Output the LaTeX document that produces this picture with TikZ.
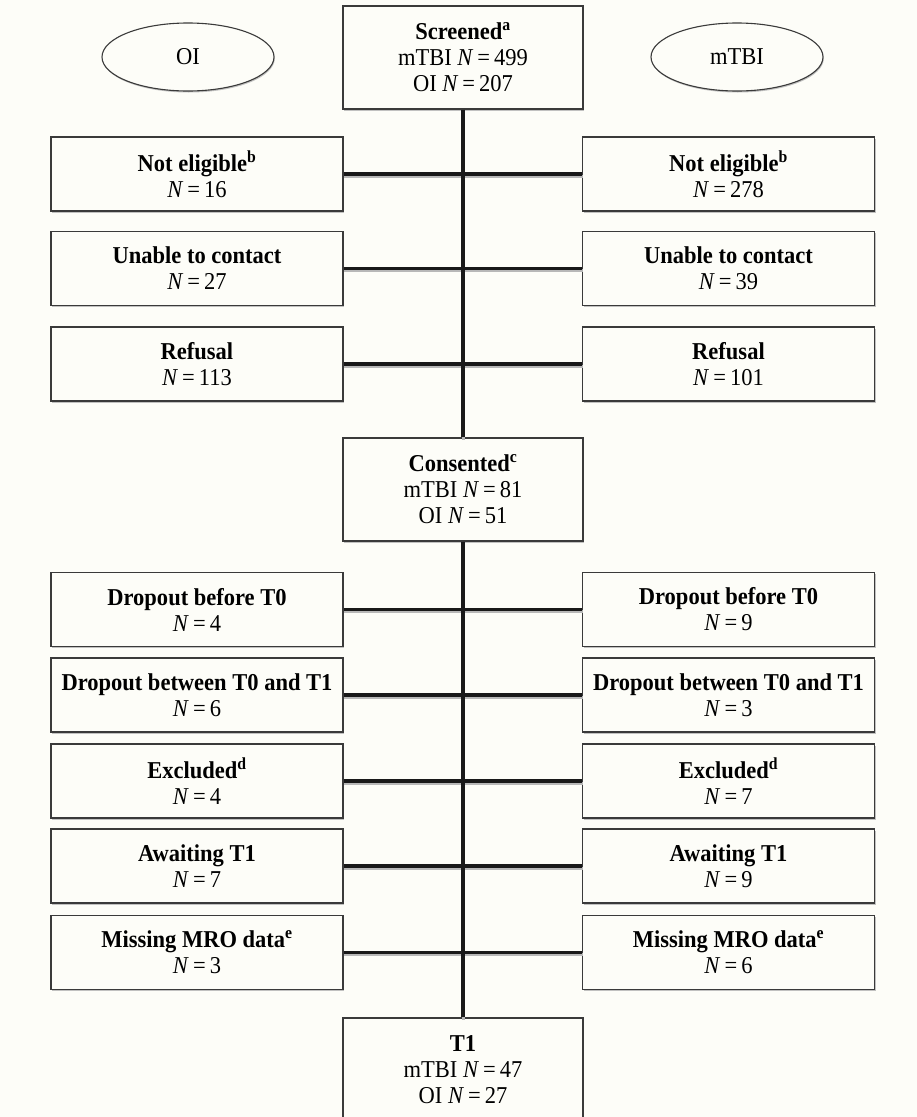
\documentclass[tikz,border=0pt]{standalone}
\usepackage{fontspec}
\setmainfont[FakeStretch=0.93]{Liberation Serif}
\usetikzlibrary{shapes.geometric,shadows}
\definecolor{bgc}{HTML}{FDFDF8}
\definecolor{edge}{HTML}{3A3A3A}
\newcommand{\nn}[1]{\textit{N}\,=\,#1}
\begin{document}
\begin{tikzpicture}[x=1pt,y=-1pt,
  txt/.style={font=\fontsize{24.2}{26}\selectfont, align=center, inner sep=1pt},
  box/.style={txt, draw=edge, line width=1.1pt, fill=bgc,
    minimum width=292pt, minimum height=74pt,
    drop shadow={shadow xshift=1pt, shadow yshift=-1.5pt, fill=black!30, opacity=0.8}},
  cbox/.style={box, minimum width=240pt, minimum height=103pt},
  oval/.style={txt, ellipse, draw=edge, line width=1.1pt, fill=bgc,
    minimum width=172pt, minimum height=68pt,
    drop shadow={shadow xshift=0.8pt, shadow yshift=-1.5pt, fill=black!30, opacity=0.8}},
  conn/.style={line width=3.3pt, black!90},
  connshadow/.style={line width=3pt, black!28, transform canvas={shift={(0.8pt,-2.4pt)}}}
]
\useasboundingbox (0,0) rectangle (917,1117);
\fill[bgc] (0,0) rectangle (917,1117);
\clip (0,0) rectangle (917,1117);

% ovals
\node[oval] (oi) at (188,57) {OI};
\node[oval] (mt) at (737,57) {mTBI};

% centre boxes
\node[cbox] (scr) at (463,57.5) {\textbf{Screened\textsuperscript{a}}\\ mTBI \nn{499}\\ OI \nn{207}};
\node[cbox] (con) at (463,489.5) {\textbf{Consented\textsuperscript{c}}\\ mTBI \nn{81}\\ OI \nn{51}};
\node[cbox] (t1) at (463,1069.5) {\textbf{T1}\\ mTBI \nn{47}\\ OI \nn{27}};

% left boxes
\node[box] (l1) at (197,174)   {\textbf{Not eligible\textsuperscript{b}}\\ \nn{16}};
\node[box] (l2) at (197,268.5) {\textbf{Unable to contact}\\ \nn{27}};
\node[box] (l3) at (197,364)   {\textbf{Refusal}\\ \nn{113}};
\node[box] (l4) at (197,609.5) {\textbf{Dropout before T0}\\ \nn{4}};
\node[box] (l5) at (197,695)   {\textbf{Dropout between T0 and T1}\\ \nn{6}};
\node[box] (l6) at (197,781)   {\textbf{Excluded\textsuperscript{d}}\\ \nn{4}};
\node[box] (l7) at (197,866)   {\textbf{Awaiting T1}\\ \nn{7}};
\node[box] (l8) at (197,952.5) {\textbf{Missing MRO data\textsuperscript{e}}\\ \nn{3}};

% right boxes
\node[box] (r1) at (728.5,174)   {\textbf{Not eligible\textsuperscript{b}}\\ \nn{278}};
\node[box] (r2) at (728.5,268.5) {\textbf{Unable to contact}\\ \nn{39}};
\node[box] (r3) at (728.5,364)   {\textbf{Refusal}\\ \nn{101}};
\node[box] (r4) at (728.5,609.5) {\textbf{Dropout before T0}\\ \nn{9}};
\node[box] (r5) at (728.5,695)   {\textbf{Dropout between T0 and T1}\\ \nn{3}};
\node[box] (r6) at (728.5,781)   {\textbf{Excluded\textsuperscript{d}}\\ \nn{7}};
\node[box] (r7) at (728.5,866)   {\textbf{Awaiting T1}\\ \nn{9}};
\node[box] (r8) at (728.5,952.5) {\textbf{Missing MRO data\textsuperscript{e}}\\ \nn{6}};

% connector shadows
\foreach \i in {1,...,8} {\draw[connshadow] (l\i.east) -- (r\i.west);}
\draw[connshadow] (scr.south) -- (con.north);
\draw[connshadow] (con.south) -- (t1.north);
% connectors
\draw[conn] (scr.south) -- (con.north);
\draw[conn] (con.south) -- (t1.north);
\foreach \i in {1,...,8} {\draw[conn] (l\i.east) -- (r\i.west);}
\end{tikzpicture}
\end{document}
